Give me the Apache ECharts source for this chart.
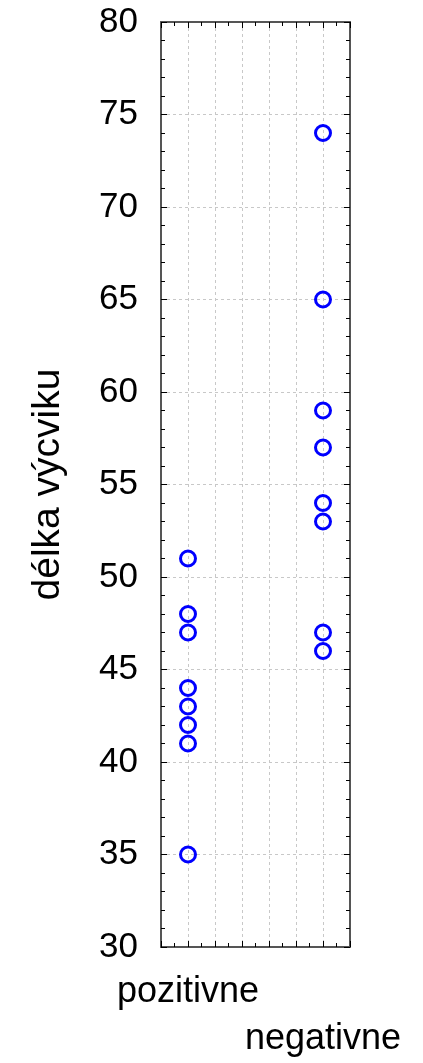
<!DOCTYPE html>
<html>
<head>
<meta charset="utf-8">
<script src="https://cdn.jsdelivr.net/npm/echarts@6/dist/echarts.min.js"></script>
<style>
html,body{margin:0;padding:0;background:#fff;}
#chart{width:423px;height:1063px;}
</style>
</head>
<body>
<div id="chart"></div>
<script>
// Data
const categories = ['pozitivne', 'negativne'];
const pozitivneValues = [51, 48, 47, 44, 43, 42, 41, 35];
const negativneValues = [74, 65, 59, 57, 54, 53, 47, 46];
const yTickLabels = [30, 35, 40, 45, 50, 55, 60, 65, 70, 75, 80];
const yTitle = 'délka výcviku';

const groups = [pozitivneValues, negativneValues];
const points = [];
groups.forEach((vals, gi) => vals.forEach(v => points.push([gi + 1, v])));

const font = '"Liberation Sans", Arial, sans-serif';
const axisCol = '#555555';
const gridLine = { show: true, lineStyle: { color: '#c8c8c8', type: [3, 3], width: 1 } };

const chart = echarts.init(document.getElementById('chart'), null, { renderer: 'canvas' });
chart.setOption({
  animation: false,
  backgroundColor: '#ffffff',
  grid: { left: 161, top: 22, width: 189, height: 931, containLabel: false },
  xAxis: [
    {
      type: 'value', position: 'bottom', min: 0.8, max: 2.2, interval: 0.2,
      axisLine: { show: true, onZero: false, lineStyle: { color: axisCol, width: 2 } },
      axisTick: { show: true, inside: true, length: 6, lineStyle: { color: '#000', width: 1 } },
      minorTick: { show: true, splitNumber: 2, length: 4, lineStyle: { color: '#000', width: 1 } },
      splitLine: gridLine,
      axisLabel: {
        show: true, margin: 22, fontSize: 36, fontFamily: font, color: '#000', lineHeight: 47,
        showMinLabel: true, showMaxLabel: true,
        formatter: function (v) {
          for (let i = 0; i < categories.length; i++) {
            if (Math.abs(v - (i + 1)) < 1e-6) {
              return (i % 2 === 1 ? '\n' : '') + categories[i];
            }
          }
          return '';
        }
      }
    },
    {
      type: 'value', position: 'top', min: 0.8, max: 2.2, interval: 0.2,
      axisLine: { show: true, onZero: false, lineStyle: { color: axisCol, width: 2 } },
      axisTick: { show: true, inside: true, length: 6, lineStyle: { color: '#000', width: 1 } },
      minorTick: { show: true, splitNumber: 2, length: 4, lineStyle: { color: '#000', width: 1 } },
      splitLine: { show: false },
      axisLabel: { show: false }
    }
  ],
  yAxis: [
    {
      type: 'value', position: 'left', min: yTickLabels[0], max: yTickLabels[yTickLabels.length - 1], interval: 5,
      name: yTitle, nameLocation: 'middle', nameGap: 93, nameRotate: 90,
      nameTextStyle: { fontSize: 39, fontFamily: font, color: '#000' },
      axisLine: { show: true, onZero: false, lineStyle: { color: axisCol, width: 2 } },
      axisTick: { show: true, inside: true, length: 6, lineStyle: { color: '#000', width: 1 } },
      minorTick: { show: true, splitNumber: 5, length: 4, lineStyle: { color: '#000', width: 1 } },
      splitLine: gridLine,
      axisLabel: { show: true, margin: 23, fontSize: 35, fontFamily: font, color: '#000' }
    },
    {
      type: 'value', position: 'right', min: yTickLabels[0], max: yTickLabels[yTickLabels.length - 1], interval: 5,
      axisLine: { show: true, onZero: false, lineStyle: { color: axisCol, width: 2 } },
      axisTick: { show: true, inside: true, length: 6, lineStyle: { color: '#000', width: 1 } },
      minorTick: { show: true, splitNumber: 5, length: 4, lineStyle: { color: '#000', width: 1 } },
      splitLine: { show: false },
      axisLabel: { show: false }
    }
  ],
  series: [{
    type: 'scatter',
    xAxisIndex: 0, yAxisIndex: 0,
    data: points,
    symbol: 'circle',
    symbolSize: 15,
    itemStyle: { color: 'rgba(0,0,0,0)', borderColor: '#0000ff', borderWidth: 3, opacity: 1 },
    emphasis: { disabled: true }
  }]
});
</script>
</body>
</html>
